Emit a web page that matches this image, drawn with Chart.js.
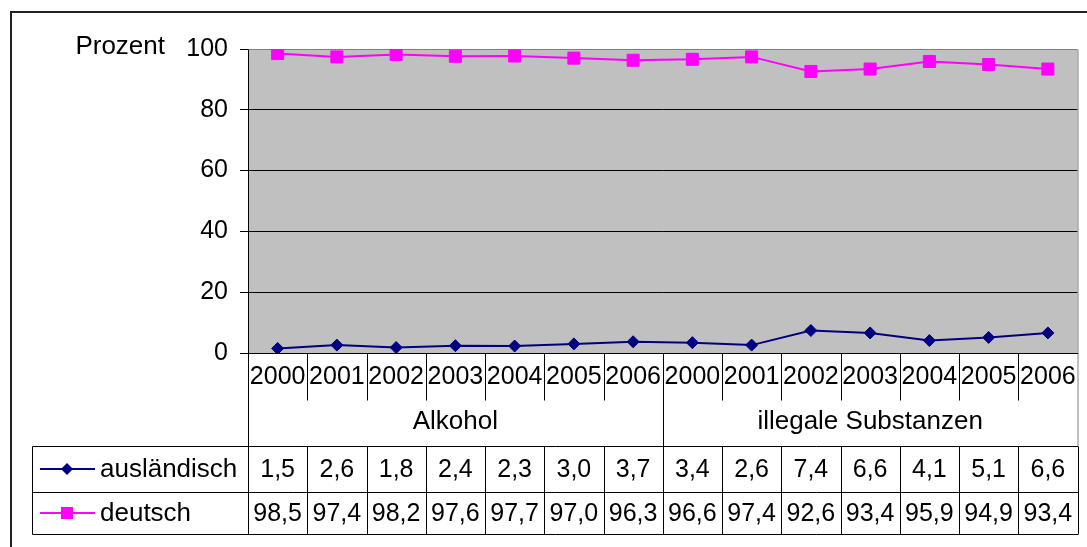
<!DOCTYPE html>
<html lang="de">
<head>
<meta charset="UTF-8" />
<title>Prozent – ausländisch / deutsch</title>
<script src="https://cdn.jsdelivr.net/npm/chart.js"></script>
<style>
  html, body { margin: 0; padding: 0; background: #fff; }
</style>
</head>
<body>
<canvas id="chart" width="1087" height="547"></canvas>
<script>
  const years = ['2000', '2001', '2002', '2003', '2004', '2005', '2006',
                 '2000', '2001', '2002', '2003', '2004', '2005', '2006'];
  const groups = ['Alkohol', 'illegale Substanzen'];
  const groupSize = 7;
  const auslaendisch = [1.5, 2.6, 1.8, 2.4, 2.3, 3.0, 3.7, 3.4, 2.6, 7.4, 6.6, 4.1, 5.1, 6.6];
  const deutsch = [98.5, 97.4, 98.2, 97.6, 97.7, 97.0, 96.3, 96.6, 97.4, 92.6, 93.4, 95.9, 94.9, 93.4];
  const yMin = 0, yMax = 100, yStep = 20;

  const FONT = '"Liberation Sans", Arial, sans-serif';
  const NUM_SIZE = 25;   // digits
  const WORD_SIZE = 26;  // words
  const NAVY = '#000080';
  const MAGENTA = '#ff00ff';

  const series = [
    { label: 'ausländisch', data: auslaendisch, color: NAVY, style: 'rectRot', radius: 6 },
    { label: 'deutsch', data: deutsch, color: MAGENTA, style: 'rect', radius: 8.5 }
  ];

  const fmt = v => v.toFixed(1).replace('.', ',');

  function drawMarker(ctx, style, x, y, r, color) {
    ctx.save();
    ctx.fillStyle = color;
    ctx.beginPath();
    if (style === 'rectRot') {
      ctx.moveTo(x - r, y); ctx.lineTo(x, y - r);
      ctx.lineTo(x + r, y); ctx.lineTo(x, y + r);
      ctx.closePath();
    } else {
      const s = Math.SQRT1_2 * r;
      ctx.rect(x - s, y - s, 2 * s, 2 * s);
    }
    ctx.fill();
    ctx.restore();
  }

  function line(ctx, x1, y1, x2, y2, color) {
    ctx.strokeStyle = color;
    ctx.beginPath();
    ctx.moveTo(x1, y1);
    ctx.lineTo(x2, y2);
    ctx.stroke();
  }

  const excelLook = {
    id: 'excelLook',
    beforeDraw(chart) {
      const { ctx, chartArea: ca } = chart;
      ctx.save();
      ctx.fillStyle = '#fff';
      ctx.fillRect(0, 0, chart.width, chart.height);
      ctx.fillStyle = '#c0c0c0';
      ctx.fillRect(ca.left, ca.top, ca.right - ca.left, ca.bottom - ca.top);
      ctx.restore();
    },
    afterDraw(chart) {
      const { ctx, chartArea: ca } = chart;
      const xs = chart.scales.x, ys = chart.scales.y, xg = chart.scales.x2;
      const n = years.length;
      const edge = i => {
        if (i === 0) return ca.left;
        if (i === n) return ca.right;
        return (xs.getPixelForValue(i - 1) + xs.getPixelForValue(i)) / 2;
      };
      const tableTop = xg.bottom;
      const rows = [tableTop, tableTop + 46, tableTop + 88];
      const tableLeft = 32;

      ctx.save();
      ctx.lineWidth = 1;
      ctx.translate(0.5, 0.5);

      // plot frame
      line(ctx, ca.right, ca.top, ca.right, tableTop, '#808080');
      line(ctx, ca.left, ca.bottom, ca.right, ca.bottom, '#000');
      line(ctx, Math.round(ca.left), ca.top, Math.round(ca.left), rows[2], '#000');

      // year separators, group separator runs through
      for (let i = 1; i < n; i++) {
        const x = Math.round(edge(i));
        if (i % groupSize === 0) {
          line(ctx, x, ca.bottom, x, rows[2], '#000');
        } else {
          line(ctx, x, ca.bottom, x, xs.bottom, '#000');
          line(ctx, x, tableTop, x, rows[2], '#000');
        }
      }
      line(ctx, Math.round(ca.right), tableTop, Math.round(ca.right), rows[2], '#000');

      // data table grid
      rows.forEach(y => line(ctx, tableLeft, y, ca.right, y, '#000'));
      line(ctx, tableLeft, rows[0], tableLeft, rows[2], '#000');
      ctx.restore();

      // data table text + legend keys
      ctx.save();
      ctx.fillStyle = '#000';
      ctx.textBaseline = 'middle';
      series.forEach((s, r) => {
        const cy = (rows[r] + rows[r + 1]) / 2;
        ctx.lineWidth = 2;
        line(ctx, 40, cy, 95, cy, s.color);
        drawMarker(ctx, s.style, 67, cy, s.radius, s.color);
        ctx.fillStyle = '#000';
        ctx.font = WORD_SIZE + 'px ' + FONT;
        ctx.textAlign = 'left';
        ctx.fillText(s.label, 100, cy + 1);
        ctx.font = NUM_SIZE + 'px ' + FONT;
        ctx.textAlign = 'center';
        s.data.forEach((v, i) => {
          ctx.fillText(fmt(v), xs.getPixelForValue(i), cy + 1);
        });
      });

      // axis caption
      ctx.font = WORD_SIZE + 'px ' + FONT;
      ctx.textAlign = 'right';
      ctx.fillText('Prozent', 165, ys.getPixelForValue(yMax) - 2);

      // outer frame
      ctx.lineWidth = 2;
      ctx.strokeStyle = '#222';
      ctx.strokeRect(11, 12, 1200, 600);
      ctx.restore();
    }
  };

  new Chart(document.getElementById('chart'), {
    type: 'line',
    data: {
      labels: years,
      datasets: series.map(s => ({
        label: s.label,
        data: s.data,
        borderColor: s.color,
        backgroundColor: s.color,
        borderWidth: 2,
        pointStyle: s.style,
        pointRadius: s.radius,
        pointBorderWidth: 1,
        pointBorderColor: s.color,
        pointBackgroundColor: s.color,
        tension: 0
      }))
    },
    options: {
      responsive: false,
      animation: false,
      layout: { padding: { top: 49, right: 3, bottom: 101, left: 0 } },
      plugins: {
        legend: { display: false },
        tooltip: { enabled: false }
      },
      scales: {
        y: {
          min: yMin,
          max: yMax,
          afterFit: s => { s.width = 248; },
          ticks: {
            stepSize: yStep,
            color: '#000',
            padding: 12,
            font: { family: FONT, size: NUM_SIZE }
          },
          grid: {
            color: c => c.tick.value === yMax ? '#808080' : '#000',
            tickColor: '#000',
            tickLength: 8,
            lineWidth: 1
          },
          border: { display: false }
        },
        x: {
          position: 'bottom',
          offset: true,
          afterFit: s => { s.height = 47; },
          ticks: {
            autoSkip: false,
            maxRotation: 0,
            color: '#000',
            padding: 1,
            font: { family: FONT, size: NUM_SIZE }
          },
          grid: { display: false },
          border: { display: false }
        },
        x2: {
          type: 'category',
          position: 'bottom',
          labels: groups,
          offset: true,
          afterFit: s => { s.height = 46; },
          ticks: {
            color: '#000',
            padding: -2,
            font: { family: FONT, size: WORD_SIZE }
          },
          grid: { display: false },
          border: { display: false }
        }
      }
    },
    plugins: [excelLook]
  });
</script>
</body>
</html>
